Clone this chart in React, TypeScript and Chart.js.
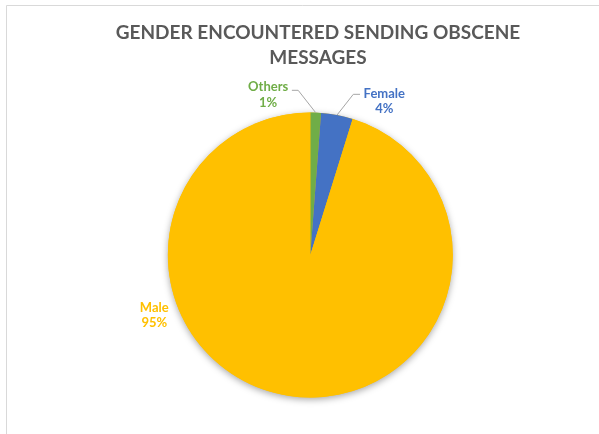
import React, { useEffect, useRef } from "react";
import { Chart, registerables } from "chart.js";

Chart.register(...registerables);

const categories = ["Others", "Female", "Male"];
const values = [1.2, 3.6, 95.2];
const sliceColors = ["#70AD47", "#4472C4", "#FFC000"];
const titleLines = ["GENDER ENCOUNTERED SENDING OBSCENE", "MESSAGES"];

const FONT = "Lato, 'Open Sans', sans-serif";

const framePlugin = {
  id: "frame",
  beforeDraw(chart: any) {
    const ctx = chart.ctx;
    ctx.save();
    ctx.fillStyle = "#ffffff";
    ctx.fillRect(0, 0, chart.width, chart.height);
    ctx.strokeStyle = "#D9D9D9";
    ctx.lineWidth = 1;
    ctx.beginPath();
    ctx.moveTo(6.5, chart.height);
    ctx.lineTo(6.5, 5.5);
    ctx.lineTo(chart.width, 5.5);
    ctx.stroke();
    // title
    ctx.fillStyle = "#595959";
    ctx.font = `bold 19px ${FONT}`;
    ctx.textAlign = "center";
    ctx.textBaseline = "middle";
    titleLines.forEach((t, i) => ctx.fillText(t, 318, 33 + i * 25));
    ctx.restore();
  },
};

const shadowPlugin = {
  id: "pieShadow",
  beforeDatasetsDraw(chart: any) {
    const meta = chart.getDatasetMeta(0);
    const arc = meta.data[0];
    if (!arc) return;
    const { x, y, outerRadius } = arc.getProps(["x", "y", "outerRadius"], true);
    const ctx = chart.ctx;
    ctx.save();
    ctx.shadowColor = "rgba(0,0,0,0.35)";
    ctx.shadowBlur = 7;
    ctx.shadowOffsetX = 0;
    ctx.shadowOffsetY = 2;
    ctx.beginPath();
    ctx.arc(x, y, outerRadius, 0, Math.PI * 2);
    ctx.fillStyle = sliceColors[2];
    ctx.fill();
    ctx.restore();
  },
};

// label styles: leader elbow offsets and text placement (style only)
const labelStyles: any[] = [
  { leader: true, elbow: [-17.5, -22.3], tail: -6.3, text: [-30, -3.4], line2: 16 },
  { leader: true, elbow: [16.3, -20.7], tail: 6.7, text: [31, -0.3], line2: 15 },
  { leader: false, fromCenter: [-156, 53], line2: 15.3 },
];

const labelPlugin = {
  id: "pieLabels",
  afterDatasetsDraw(chart: any) {
    const meta = chart.getDatasetMeta(0);
    const ctx = chart.ctx;
    const total = values.reduce((a, b) => a + b, 0);
    ctx.save();
    ctx.font = `bold 13px ${FONT}`;
    ctx.textAlign = "center";
    ctx.textBaseline = "middle";
    meta.data.forEach((el: any, i: number) => {
      const p = el.getProps(["x", "y", "startAngle", "endAngle", "outerRadius"], true);
      const mid = (p.startAngle + p.endAngle) / 2;
      const ex = p.x + Math.cos(mid) * p.outerRadius;
      const ey = p.y + Math.sin(mid) * p.outerRadius;
      const st = labelStyles[i];
      const pct = Math.round((values[i] / total) * 100) + "%";
      let tx: number, ty: number;
      if (st.leader) {
        const bx = ex + st.elbow[0];
        const by = ey + st.elbow[1];
        ctx.strokeStyle = "#A6A6A6";
        ctx.lineWidth = 1;
        ctx.beginPath();
        ctx.moveTo(ex, ey);
        ctx.lineTo(bx, by);
        ctx.lineTo(bx + st.tail, by);
        ctx.stroke();
        tx = bx + st.text[0];
        ty = by + st.text[1];
      } else {
        tx = p.x + st.fromCenter[0];
        ty = p.y + st.fromCenter[1];
      }
      ctx.fillStyle = sliceColors[i];
      ctx.fillText(categories[i], tx, ty);
      ctx.fillText(pct, tx, ty + st.line2);
    });
    ctx.restore();
  },
};

export default function App() {
  const ref = useRef<HTMLCanvasElement>(null);
  useEffect(() => {
    if (!ref.current) return;
    const chart = new Chart(ref.current, {
      type: "pie",
      data: {
        labels: categories,
        datasets: [
          {
            data: values,
            backgroundColor: sliceColors,
            borderWidth: 0,
          },
        ],
      },
      options: {
        responsive: false,
        animation: false,
        layout: {
          padding: { left: 167.8, right: 146.2, top: 112.5, bottom: 36.5 },
        },
        plugins: {
          legend: { display: false },
          title: { display: false },
          tooltip: { enabled: false },
        },
      },
      plugins: [framePlugin, shadowPlugin, labelPlugin],
    });
    return () => chart.destroy();
  }, []);
  return (
    <div style={{ position: "fixed", left: 0, top: 0, width: 599, height: 434, background: "#fff" }}>
      <canvas ref={ref} width={599} height={434} style={{ display: "block", width: 599, height: 434 }} />
    </div>
  );
}
